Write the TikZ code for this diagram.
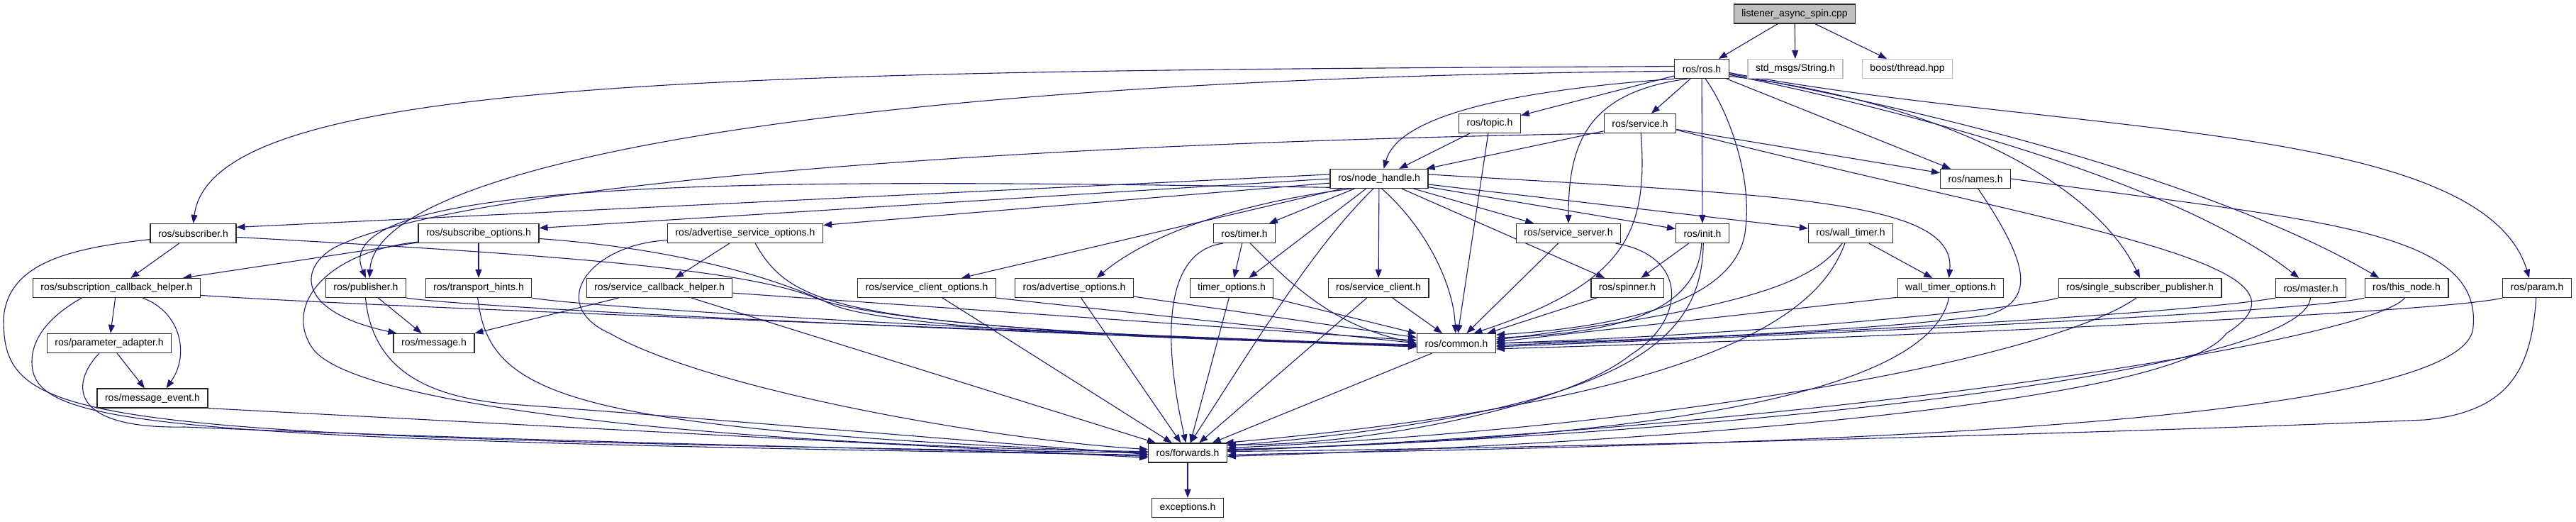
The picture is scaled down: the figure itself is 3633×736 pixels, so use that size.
\documentclass[tikz,border=0pt]{standalone}
\usepackage{fontspec}
\setmainfont{Liberation Sans}
\usetikzlibrary{arrows.meta,backgrounds}
\definecolor{depblue}{RGB}{25,25,112}
\definecolor{extgray}{RGB}{191,191,191}
\begin{document}
\begin{tikzpicture}[x=1pt,y=-1pt,
    hdr/.style={draw=black!85, line width=1.2pt, fill=white, inner xsep=11pt, inner ysep=0pt, minimum height=27pt, font=\fontsize{14}{16}\selectfont},
    ext/.style={hdr, draw=extgray},
    dep/.style={draw=depblue, line width=1.1pt, -{Triangle[length=12pt,width=9pt]}}]

\useasboundingbox (0,0) rectangle (3633,736);

\node[hdr, fill=extgray] (main) at (2531,19.5) {listener\_async\_spin.cpp};
\node[hdr] (rosh) at (2400,97) {ros/ros.h};
\node[ext] (stdmsgs) at (2532,97) {std\_msgs/String.h};
\node[ext] (boost) at (2690,97) {boost/thread.hpp};

\node[hdr] (topic) at (2101,174) {ros/topic.h};
\node[hdr] (service) at (2313,174) {ros/service.h};

\node[hdr] (nodehandle) at (1945,252) {ros/node\_handle.h};
\node[hdr] (names) at (2786,252) {ros/names.h};

\node[hdr] (subscriber) at (272.5,329) {ros/subscriber.h};
\node[hdr] (subopts) at (675,329) {ros/subscribe\_options.h};
\node[hdr] (advsrvopts) at (1051,329) {ros/advertise\_service\_options.h};
\node[hdr] (timer) at (1755,329) {ros/timer.h};
\node[hdr] (srvserver) at (2212,329) {ros/service\_server.h};
\node[hdr] (init) at (2401,329) {ros/init.h};
\node[hdr] (walltimer) at (2610,329) {ros/wall\_timer.h};

\node[hdr] (subcbhelper) at (164.5,406) {ros/subscription\_callback\_helper.h};
\node[hdr] (publisher) at (516,406) {ros/publisher.h};
\node[hdr] (transport) at (675,406) {ros/transport\_hints.h};
\node[hdr] (srvcbhelper) at (930,406) {ros/service\_callback\_helper.h};
\node[hdr] (srvclientopts) at (1307,406) {ros/service\_client\_options.h};
\node[hdr] (advopts) at (1515,406) {ros/advertise\_options.h};
\node[hdr] (timeropts) at (1737,406) {timer\_options.h};
\node[hdr] (srvclient) at (1944,406) {ros/service\_client.h};
\node[hdr] (spinner) at (2295,406) {ros/spinner.h};
\node[hdr] (walltimeropts) at (2751,406) {wall\_timer\_options.h};
\node[hdr] (ssp) at (3018,406) {ros/single\_subscriber\_publisher.h};
\node[hdr] (master) at (3259,406) {ros/master.h};
\node[hdr] (thisnode) at (3394,406) {ros/this\_node.h};
\node[hdr] (param) at (3578,406) {ros/param.h};

\node[hdr] (paramadapter) at (154,484) {ros/parameter\_adapter.h};
\node[hdr] (message) at (612,484) {ros/message.h};
\node[hdr] (common) at (2054,484) {ros/common.h};
\node[hdr] (msgevent) at (215,561.5) {ros/message\_event.h};
\node[hdr] (forwards) at (1675,638.5) {ros/forwards.h};
\node[hdr] (exceptions) at (1675,716) {exceptions.h};

\begin{scope}[on background layer]
\draw[dep] (main) -- (rosh);
\draw[dep] (main) -- (stdmsgs);
\draw[dep] (main) -- (boost);

\draw[dep] (rosh.175) .. controls (1000,100) and (300,110) .. (subscriber.north);
\draw[dep] (rosh.185) .. controls (1200,110) and (530,230) .. (publisher.70);
\draw[dep] (rosh.200) .. controls (2100,130) and (1970,170) .. (nodehandle.65);
\draw[dep] (rosh) -- (topic);
\draw[dep] (rosh) -- (service);
\draw[dep] (rosh.215) .. controls (2240,130) and (2212,200) .. (srvserver.north);
\draw[dep] (rosh) -- (init);
\draw[dep] (rosh.-70) .. controls (2440,160) and (2470,250) .. (2462,320) .. controls (2455,420) and (2300,460) .. (common.12);
\draw[dep] (rosh) -- (names);
\draw[dep] (rosh.-15) .. controls (2720,140) and (2950,250) .. (ssp.north);
\draw[dep] (rosh.-12) .. controls (2800,180) and (3100,280) .. (master.140);
\draw[dep] (rosh.-10) .. controls (2900,190) and (3200,300) .. (thisnode.160);
\draw[dep] (rosh.-8) .. controls (2900,190) and (3500,170) .. (param.128);

\draw[dep] (nodehandle.175) -- (subscriber.8);
\draw[dep] (nodehandle.180) -- (subopts.5);
\draw[dep] (nodehandle.185) -- (advsrvopts.6);
\draw[dep] (nodehandle.190) .. controls (1200,255) and (450,240) .. (publisher.north);
\draw[dep] (nodehandle.195) -- (srvclientopts.16);
\draw[dep] (nodehandle.200) .. controls (1750,285) and (1620,330) .. (advopts.24);
\draw[dep] (nodehandle) -- (timer);
\draw[dep] (nodehandle) -- (timeropts.30);
\draw[dep] (nodehandle) -- (srvclient);
\draw[dep] (nodehandle.-75) .. controls (2010,320) and (2050,400) .. (common.95);
\draw[dep] (nodehandle) -- (spinner);
\draw[dep] (nodehandle) -- (srvserver);
\draw[dep] (nodehandle) -- (init);
\draw[dep] (nodehandle) -- (walltimer);
\draw[dep] (nodehandle.5) .. controls (2500,275) and (2760,280) .. (walltimeropts.100);
\draw[dep] (nodehandle.240) .. controls (1850,350) and (1760,500) .. (forwards.75);

\draw[dep] (topic) -- (nodehandle);
\draw[dep] (topic) -- (common);

\draw[dep] (service) -- (nodehandle);
\draw[dep] (service) -- (names);
\draw[dep] (service.-85) .. controls (2325,330) and (2290,400) .. (common.30);
\draw[dep] (service.south west) .. controls (1300,205) and (620,270) .. (470,350) .. controls (420,380) and (420,440) .. (message.165);
\draw[dep] (service.-10) .. controls (2900,320) and (3300,370) .. (3140,470) .. controls (3060,580) and (2200,630) .. (forwards.-5);

\draw[dep] (names.-75) .. controls (2860,370) and (2875,425) .. (2800,445) .. controls (2600,470) and (2300,480) .. (common.east);
\draw[dep] (names.east) .. controls (3250,310) and (3500,320) .. (3488,460) .. controls (3485,620) and (2200,630) .. (forwards.-3);

\draw[dep] (init) -- (spinner);
\draw[dep] (init.-95) .. controls (2395,440) and (2280,470) .. (common.8);
\draw[dep] (init.-85) .. controls (2400,480) and (2300,580) .. (forwards.10);

\draw[dep] (srvserver) -- (common);
\draw[dep] (srvserver.-12) .. controls (2380,360) and (2380,450) .. (2300,500) .. controls (2200,580) and (1900,630) .. (forwards.12);

\draw[dep] (spinner) -- (common);
\draw[dep] (srvclient) -- (common);
\draw[dep] (srvclient) -- (forwards);

\draw[dep] (timer) -- (timeropts);
\draw[dep] (timer.-60) .. controls (1820,400) and (1880,460) .. (common.west);
\draw[dep] (timer.-155) .. controls (1640,355) and (1640,480) .. (forwards.100);
\draw[dep] (timeropts) -- (common);
\draw[dep] (timeropts) -- (forwards);

\draw[dep] (walltimer) -- (walltimeropts);
\draw[dep] (walltimer.-130) .. controls (2560,390) and (2500,430) .. (common.5);
\draw[dep] (walltimer.-120) .. controls (2570,430) and (2450,560) .. (forwards.15);
\draw[dep] (walltimeropts.-170) -- (common.2);
\draw[dep] (walltimeropts.-100) .. controls (2720,560) and (2300,620) .. (forwards.5);

\draw[dep] (ssp.south west) .. controls (2850,435) and (2500,470) .. (common.0);
\draw[dep] (ssp.-110) .. controls (2900,500) and (2400,600) .. (forwards.7);
\draw[dep] (master.south west) .. controls (3100,440) and (2600,470) .. (common.-3);
\draw[dep] (master.-92) .. controls (3250,520) and (2500,610) .. (forwards.4);
\draw[dep] (thisnode.south west) .. controls (3250,440) and (2600,470) .. (common.-5);
\draw[dep] (thisnode.-100) .. controls (3340,480) and (2600,600) .. (forwards.3);
\draw[dep] (param.south west) .. controls (3450,440) and (2700,475) .. (common.-8);
\draw[dep] (param.-95) .. controls (3570,520) and (3540,580) .. (3420,592) .. controls (3000,610) and (2200,632) .. (forwards.2);

\draw[dep] (advopts) -- (common);
\draw[dep] (advopts) -- (forwards);
\draw[dep] (srvclientopts.south east) -- (common.west);
\draw[dep] (srvclientopts) -- (forwards);

\draw[dep] (advsrvopts) -- (srvcbhelper);
\draw[dep] (advsrvopts.-45) .. controls (1120,440) and (1200,460) .. (common.-175);
\draw[dep] (advsrvopts.-175) .. controls (830,345) and (770,430) .. (860,470) .. controls (1000,550) and (1400,620) .. (forwards.175);
\draw[dep] (srvcbhelper) -- (message);
\draw[dep] (srvcbhelper) -- (common);
\draw[dep] (srvcbhelper) -- (forwards);

\draw[dep] (subopts) -- (transport);
\draw[dep] (subopts) -- (subcbhelper);
\draw[dep] (subopts.-5) .. controls (950,350) and (1090,390) .. (1170,428) .. controls (1250,466) and (1700,480) .. (common.-178);
\draw[dep] (subopts.-172) .. controls (460,355) and (400,430) .. (440,490) .. controls (500,580) and (1100,630) .. (forwards.178);
\draw[dep] (transport.south east) .. controls (820,432) and (1300,462) .. (common.-176);
\draw[dep] (transport.-95) .. controls (690,560) and (800,605) .. (forwards.180);

\draw[dep] (publisher) -- (message);
\draw[dep] (publisher.south east) .. controls (650,432) and (1200,460) .. (common.-175);
\draw[dep] (publisher.-92) .. controls (525,520) and (600,560) .. (720,570) .. controls (1000,590) and (1400,625) .. (forwards.182);

\draw[dep] (subscriber) -- (subcbhelper);
\draw[dep] (subscriber.-5) .. controls (800,360) and (1050,380) .. (1150,420) .. controls (1250,460) and (1700,482) .. (common.-178);
\draw[dep] (subscriber.-172) .. controls (100,350) and (10,370) .. (5,450) .. controls (5,600) and (100,615) .. (forwards.180);

\draw[dep] (subcbhelper) -- (paramadapter);
\draw[dep] (subcbhelper.-21) .. controls (255,440) and (268,500) .. (msgevent.36);
\draw[dep] (subcbhelper.-5) .. controls (450,428) and (1000,450) .. (common.-177);
\draw[dep] (subcbhelper.-164) .. controls (80,440) and (45,470) .. (45,510) .. controls (45,600) and (200,620) .. (forwards.183);

\draw[dep] (paramadapter) -- (msgevent);
\draw[dep] (paramadapter.-135) .. controls (100,540) and (95,605) .. (260,602) .. controls (800,625) and (1400,635) .. (forwards.185);
\draw[dep] (msgevent.south east) -- (forwards.187);

\draw[dep] (common) -- (forwards);
\draw[dep] (forwards) -- (exceptions);
\end{scope}

\end{tikzpicture}
\end{document}
